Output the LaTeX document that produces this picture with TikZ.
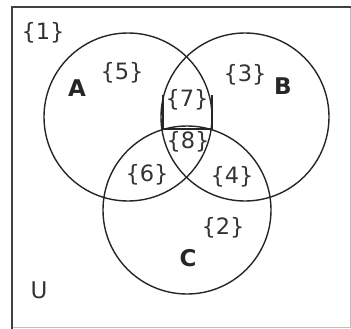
\documentclass[tikz,border=0pt]{standalone}
\usepackage{fontspec}
\setmainfont{DejaVu Sans}
\usetikzlibrary{calc}

\begin{document}
\begin{tikzpicture}[
    x=1pt, y=-1pt,
    font=\fontsize{22.5}{24}\selectfont,
    setcirc/.style={circle, draw=black!85, line width=1.4pt, minimum size=168pt, inner sep=0pt},
    region/.style={inner sep=0pt, text=black!80},
    setname/.style={inner sep=0pt, font=\fontsize{23}{25}\selectfont\bfseries, text=black!85},
    frameline/.style={draw=black!75, line width=1.4pt},
    line/.style={draw=black!85, line width=1.3pt}
]
\useasboundingbox (0,0) rectangle (351,329);

% universe frame
\draw[draw=black!25, line width=0.6pt] (350,7) -- (350,327) -- (12,327);
\draw[frameline] (12,329) -- (12,7) -- (351,7);

% the three sets
\node[setcirc] (cA) at (128,117) {};
\node[setcirc] (cB) at (245,117) {};
\node[setcirc] (cC) at (187,210) {};

% box round region 7
\coordinate (boxtl) at (163,95);
\coordinate (boxbl) at (163,129);
\coordinate (boxbr) at (212,129);
\coordinate (boxtr) at (212,95);
\draw[line] (boxtl) -- (boxbl) -- (boxbr) -- (boxtr);

% set names
\node[setname] (nameA) at (77,88) {A};
\node[setname] (nameB) at (283,86) {B};
\node[setname] (nameC) at (188,258) {C};
\node[region, font=\fontsize{23}{25}\selectfont] (nameU) at (39,290) {U};

% regions
\node[region] (r1) at (43,33) {\{1\}};
\node[region] (r5) at (122,73) {\{5\}};
\node[region] (r3) at (245,75) {\{3\}};
\node[region] (r7) at (187,100) {\{7\}};
\node[region] (r8) at (188,142) {\{8\}};
\node[region] (r6) at (147,175) {\{6\}};
\node[region] (r4) at (232,177) {\{4\}};
\node[region] (r2) at (223,228) {\{2\}};
\end{tikzpicture}
\end{document}
